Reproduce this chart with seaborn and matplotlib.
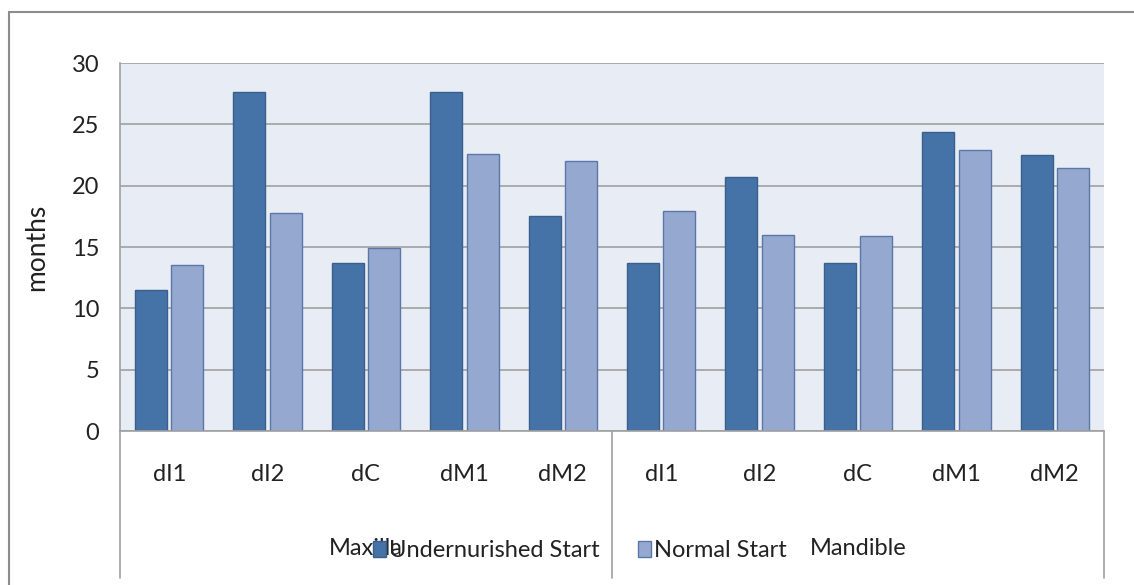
import matplotlib
matplotlib.use("Agg")
import matplotlib.pyplot as plt
import matplotlib.patches as mpatches
import seaborn as sns
import pandas as pd

# values (months)
teeth = ["dI1", "dI2", "dC", "dM1", "dM2"]
jaws = ["Maxilla", "Mandible"]
series = ["Undernurished Start", "Normal Start"]
undernourished = [11.5, 27.6, 13.7, 27.6, 17.5, 13.7, 20.7, 13.7, 24.4, 22.5]
normal = [13.5, 17.8, 14.9, 22.6, 22.0, 17.9, 16.0, 15.9, 22.9, 21.4]

colors = ["#4572A7", "#95A9D0"]
edges = ["#3A5F8C", "#5A77A8"]

# build long table with unique x keys (jaw + tooth)
keys = [f"{j} {t}" for j in jaws for t in teeth]
df = pd.DataFrame({
    "key": keys * 2,
    "series": [series[0]] * len(keys) + [series[1]] * len(keys),
    "months": undernourished + normal,
})

sns.set_style("white")
plt.rcParams["font.family"] = ["Lato", "DejaVu Sans"]
FS = 17

fig = plt.figure(figsize=(11.34, 5.85), dpi=100)
ax = fig.add_axes([120 / 1134, 1 - 431 / 585, 984 / 1134, 368 / 585])
ax.set_facecolor("#E8ECF4")

sns.barplot(data=df, x="key", y="months", hue="series", order=keys,
            hue_order=series, palette=colors, width=0.74, gap=0.12,
            ax=ax, legend=False, saturation=1)
for i, cont in enumerate(ax.containers):
    for bar in cont:
        bar.set_edgecolor(edges[i])
        bar.set_linewidth(1.0)

ax.set_ylim(0, 30)
ax.set_xlim(-0.5, len(keys) - 0.5)
ax.set_yticks(range(0, 31, 5))
ax.set_xticks(range(len(keys)))
ax.set_xticklabels(teeth * 2)
ax.yaxis.grid(True, color="#A0A0A0", linewidth=1.2)
ax.set_axisbelow(True)
ax.tick_params(axis="both", length=0, labelsize=FS, colors="#222222")
ax.tick_params(axis="x", pad=24)
ax.tick_params(axis="y", pad=15)
ax.set_xlabel("")
ax.set_ylabel("months", fontsize=19, labelpad=16, color="#222222")

for s in ["top", "right"]:
    ax.spines[s].set_visible(False)
for s in ["left", "bottom"]:
    ax.spines[s].set_color("#A0A0A0")
    ax.spines[s].set_linewidth(1.2)

# group separators below the axis
trans = ax.get_xaxis_transform()
for xpos in [-0.5, 4.5, 9.5]:
    ax.plot([xpos, xpos], [0, -0.4], transform=trans, color="#A0A0A0",
            linewidth=1.2, clip_on=False)

# group labels
for gi, jaw in enumerate(jaws):
    ax.text(gi * 5 + 2, -0.32, jaw, transform=trans, ha="center",
            va="center", fontsize=FS, color="#222222")

# legend overlapping the group labels, as in the original
handles = [mpatches.Patch(facecolor=colors[i], edgecolor=edges[i], label=series[i])
           for i in range(2)]
ax.legend(handles=handles, loc="center", bbox_to_anchor=(0.4675, -0.325),
          ncol=2, frameon=False, fontsize=FS, handlelength=0.55,
          handleheight=0.65, handletextpad=0.15, columnspacing=1.6,
          labelcolor="#222222")

# outer chart border
fig.add_artist(mpatches.Rectangle((9 / 1134, -0.1), 1.2, 1 - 12 / 585 + 0.1,
                                  transform=fig.transFigure, fill=False,
                                  edgecolor="#8C8C8C", linewidth=1.5))

fig.savefig("out.png", dpi=100)
